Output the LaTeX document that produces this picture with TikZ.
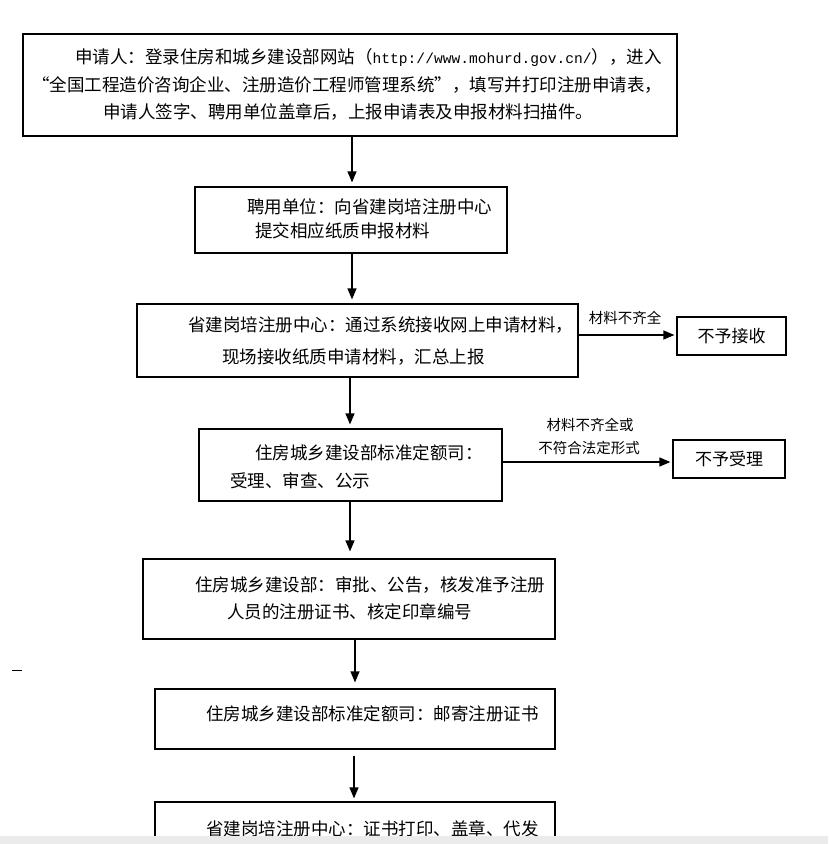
\documentclass[tikz,border=0pt]{standalone}
\usepackage{fontspec}
\setmainfont{Noto Sans CJK SC}
\newfontfamily\urlfont{Liberation Mono}
\newfontfamily\fwfont[RawFeature=+fwid]{Noto Sans CJK SC}
\usetikzlibrary{arrows.meta}
\begin{document}
\begin{tikzpicture}[x=1pt,y=-1pt,
  box/.style={draw, line width=1.2pt, inner sep=0pt},
  txt/.style={anchor=west, inner sep=0pt, font=\fontsize{17.5}{20}\selectfont},
  lbl/.style={inner sep=0pt, font=\fontsize{14.5}{17}\selectfont},
  rtxt/.style={inner sep=0pt, font=\fontsize{17}{20}\selectfont},
  arr/.style={line width=1.2pt, -{Triangle[length=11pt,width=9pt]}}]
\path[use as bounding box, fill=white] (0,0) rectangle (828,844);
\begin{scope}
\clip (0,0) rectangle (828,844);
% boxes
\node[box, minimum width=654pt, minimum height=102pt] (b1) at (350,85) {};
\node[box, minimum width=312pt, minimum height=66pt] (b2) at (351,220) {};
\node[box, minimum width=441pt, minimum height=73pt] (b3) at (357.5,340.5) {};
\node[box, minimum width=109pt, minimum height=38pt] (r1) at (731.5,336) {};
\node[box, minimum width=303pt, minimum height=72pt] (b4) at (350.5,465) {};
\node[box, minimum width=112pt, minimum height=38pt] (r2) at (729,459) {};
\node[box, minimum width=412pt, minimum height=80pt] (b5) at (349,599) {};
\node[box, minimum width=400pt, minimum height=60pt] (b6) at (355,719) {};
\node[box, minimum width=400pt, minimum height=80pt] (b7) at (355,842) {};
% texts
\node[txt] (t1a) at (75,58) {申请人：登录住房和城乡建设部网站（{\urlfont\fontsize{14.6}{18}\selectfont http://www.mohurd.gov.cn/}），进入};
\node[txt] (t1b) at (32,85) {{\fwfont “}全国工程造价咨询企业、注册造价工程师管理系统{\fwfont ”}，填写并打印注册申请表，};
\node[txt] (t1c) at (103,112) {申请人签字、聘用单位盖章后，上报申请表及申报材料扫描件。};
\node[txt] (t2a) at (247,207) {聘用单位：向省建岗培注册中心};
\node[txt] (t2b) at (255,231) {提交相应纸质申报材料};
\node[txt] (t3a) at (188,325) {省建岗培注册中心：通过系统接收网上申请材料，};
\node[txt] (t3b) at (222,357) {现场接收纸质申请材料，汇总上报};
\node[txt] (t4a) at (255,453) {住房城乡建设部标准定额司：};
\node[txt] (t4b) at (230,481) {受理、审查、公示};
\node[txt] (t5a) at (195,585) {住房城乡建设部：审批、公告，核发准予注册};
\node[txt] (t5b) at (227,612) {人员的注册证书、核定印章编号};
\node[txt] (t6a) at (206,714) {住房城乡建设部标准定额司：邮寄注册证书};
\node[txt] (t7a) at (206,829) {省建岗培注册中心：证书打印、盖章、代发};
\node[rtxt] (tr1) at (r1) {不予接收};
\node[rtxt] (tr2) at (r2) {不予受理};
\node[lbl] (l1) at (625,318) {材料不齐全};
\node[lbl] (l2a) at (590,425) {材料不齐全或};
\node[lbl] (l2b) at (589,448) {不符合法定形式};
% arrow x positions
\coordinate (x1) at (352,0);
\coordinate (x2) at (352,0);
\coordinate (x3) at (350,0);
\coordinate (x4) at (350,0);
\coordinate (x5) at (355,0);
\coordinate (x6) at (354,0);
\draw[arr, shorten >=4pt] (b1.south -| x1) -- (b2.north -| x1);
\draw[arr, shorten >=4pt] (b2.south -| x2) -- (b3.north -| x2);
\draw[arr, shorten >=4pt] (b3.south -| x3) -- (b4.north -| x3);
\draw[arr, shorten >=7pt] (b4.south -| x4) -- (b5.north -| x4);
\draw[arr, shorten >=6pt] (b5.south -| x5) -- (b6.north -| x5);
\draw[arr, shorten <=6pt, shorten >=3pt] (b6.south -| x6) -- (b7.north -| x6);
\coordinate (y1) at (0,335);
\coordinate (y2) at (0,462);
\draw[arr, shorten >=2pt] (b3.east |- y1) -- (r1.west |- y1);
\draw[arr, shorten >=2pt] (b4.east |- y2) -- (r2.west |- y2);
% small dash at left
\coordinate (d1) at (12,670);
\coordinate (d2) at (22,670);
\draw[line width=1pt] (d1) -- (d2);
% bottom gray strip
\fill[black!8] (0,836) rectangle (828,844);
\end{scope}
\end{tikzpicture}
\end{document}
